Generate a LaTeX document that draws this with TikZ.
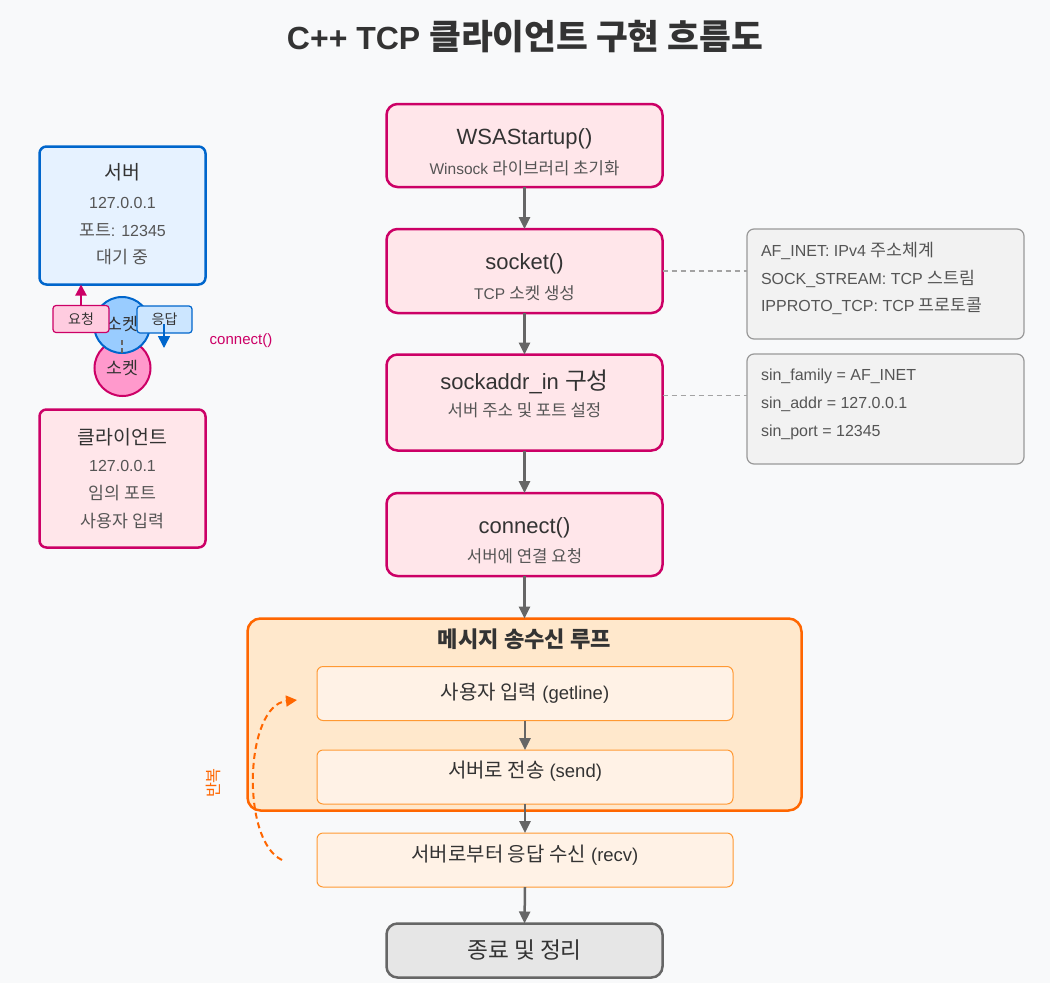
\documentclass[tikz,border=0pt]{standalone}
\usepackage{fontspec}
\setmainfont{Liberation Sans}
\newfontfamily\krfont[Scale=1.08]{Noto Sans CJK KR}
\newcommand\hg[1]{{\krfont #1}}
\usetikzlibrary{arrows.meta,calc}
\newcommand\fsz[1]{\fontsize{#1}{#1}\selectfont}
\definecolor{bg}{HTML}{F8F9FA}
\definecolor{txt}{HTML}{333333}
\definecolor{subtxt}{HTML}{555555}
\definecolor{pinkS}{HTML}{CC0066}
\definecolor{pinkF}{HTML}{FFE6EA}
\definecolor{pinkC}{HTML}{FF99CC}
\definecolor{pinkL}{HTML}{FFCCE0}
\definecolor{blueS}{HTML}{0066CC}
\definecolor{blueF}{HTML}{E6F2FF}
\definecolor{blueC}{HTML}{99CCFF}
\definecolor{blueL}{HTML}{CCE6FF}
\definecolor{orS}{HTML}{FF6600}
\definecolor{orF}{HTML}{FFE8CC}
\definecolor{inS}{HTML}{FF9933}
\definecolor{inF}{HTML}{FFF2E6}
\definecolor{noteF}{HTML}{F2F2F2}
\definecolor{noteS}{HTML}{999999}
\definecolor{endF}{HTML}{E6E6E6}
\definecolor{arr}{HTML}{666666}
\begin{document}
\begin{tikzpicture}[x=1pt,y=-1pt,
  every node/.style={inner sep=0pt,outer sep=0pt,text=txt},
  flowbox/.style={draw=pinkS,fill=pinkF,line width=2.5pt,rounded corners=11pt,minimum width=276pt},
  sidebox/.style={line width=2.5pt,rounded corners=7pt,minimum width=166pt,minimum height=138pt},
  notebox/.style={draw=noteS,fill=noteF,line width=1.2pt,rounded corners=7pt,minimum width=277pt,minimum height=110pt},
  innerbox/.style={draw=inS,fill=inF,line width=1pt,rounded corners=6pt,minimum width=416pt,minimum height=54pt},
  ttl/.style={font=\fsz{22}},
  sub/.style={font=\fsz{15.5},text=subtxt},
  side/.style={font=\fsz{16},text=subtxt},
  notetxt/.style={font=\fsz{16},text=subtxt,anchor=west},
  innertxt/.style={font=\fsz{18.5}},
  flowarrow/.style={draw=arr,line width=2.5pt,-{Triangle[length=12pt,width=11pt]}},
  dashlink/.style={draw=noteS!90,line width=1.2pt,dash pattern=on 5pt off 4pt}
]
\useasboundingbox[fill=bg] (0,0) rectangle (1050,983);

% title
\node[font=\fsz{32}\bfseries] (title) at (525,37) {C++ TCP \hg{클라이언트 구현 흐름도}};

% main flow
\node[flowbox,minimum height=83pt] (w) at (524.5,145.5) {};
\node[ttl] (wt) at (524.5,139) {WSAStartup()};
\node[sub] (ws) at (524.5,168) {Winsock \hg{라이브러리 초기화}};

\node[flowbox,minimum height=84pt] (s) at (524.5,271) {};
\node[ttl] (st) at (524.5,264) {socket()};
\node[sub] (ss) at (524.5,293) {TCP \hg{소켓 생성}};

\node[flowbox,minimum height=96pt] (sa) at (524.5,402.5) {};
\node[ttl] (sat) at (524.5,382) {sockaddr\_in \hg{구성}};
\node[sub] (sas) at (524.5,410) {\hg{서버 주소 및 포트 설정}};

\node[flowbox,minimum height=83pt] (c) at (524.5,534.5) {};
\node[ttl] (ct) at (524.5,528) {connect()};
\node[sub] (cs) at (524.5,556) {\hg{서버에 연결 요청}};

% loop
\node[draw=orS,fill=orF,line width=2.5pt,rounded corners=13pt,minimum width=554pt,minimum height=192pt] (loop) at (524.5,714.5) {};
\node[font=\fsz{20.5}\bfseries] (loopt) at (524.5,639) {\hg{메시지 송수신 루프}};

\node[innerbox] (in1) at (525,693.5) {};
\node[innertxt] (in1t) at (525,693) {\hg{사용자 입력} (getline)};
\node[innerbox] (in2) at (525,777) {};
\node[innertxt] (in2t) at (525,771) {\hg{서버로 전송} (send)};
\node[innerbox] (in3) at (525,860) {};
\node[innertxt] (in3t) at (525,855) {\hg{서버로부터 응답 수신} (recv)};

\node[draw=arr,fill=endF,line width=2.5pt,rounded corners=11pt,minimum width=276pt,minimum height=54pt,font=\fsz{21}] (end) at (524.5,950.5) {\hg{종료 및 정리}};

% flow arrows
\draw[flowarrow] (w.south) -- (s.north);
\draw[flowarrow] (s.south) -- (sa.north);
\draw[flowarrow] (sa.south) -- (c.north);
\draw[flowarrow] (c.south) -- (loop.north);
\draw[flowarrow] (in1.south) -- (in2.north);
\draw[flowarrow] (in2.south) -- (in3.north);
\draw[flowarrow] (in3.south) -- (end.north);

% repeat arrow
\coordinate (rA) at (282,860);
\coordinate (rB) at (297,700);
\draw[draw=orS,line width=2pt,dash pattern=on 6pt off 4pt,-{Triangle[length=11pt,width=11pt]}] (rA) .. controls (240,840) and (245,705) .. (rB);
\node[font=\fsz{15},text=orS,rotate=90] (rep) at (213,783) {\hg{반복}};

% notes
\node[notebox] (n1) at (885.5,284) {};
\node[notetxt] (n1a) at (761,251) {AF\_INET: IPv4 \hg{주소체계}};
\node[notetxt] (n1b) at (761,279) {SOCK\_STREAM: TCP \hg{스트림}};
\node[notetxt] (n1c) at (761,306) {IPPROTO\_TCP: TCP \hg{프로토콜}};
\node[notebox] (n2) at (885.5,409) {};
\node[notetxt] (n2a) at (761,376) {sin\_family = AF\_INET};
\node[notetxt] (n2b) at (761,404) {sin\_addr = 127.0.0.1};
\node[notetxt] (n2c) at (761,432) {sin\_port = 12345};
\draw[dashlink] (s.east) -- (s.east -| n1.west);
\coordinate (saR) at ($(sa.east)+(0,-7)$);
\draw[dashlink] (saR) -- (saR -| n2.west);

% server / client
\node[sidebox,draw=blueS,fill=blueF] (srv) at (122.5,215.5) {};
\node[font=\fsz{18}] (srvt) at (122.5,172) {\hg{서버}};
\node[side] (srv1) at (122.5,203) {127.0.0.1};
\node[side] (srv2) at (122.5,230) {\hg{포트}: 12345};
\node[side] (srv3) at (122.5,257) {\hg{대기 중}};

\node[sidebox,draw=pinkS,fill=pinkF] (cli) at (122.5,478.5) {};
\node[font=\fsz{18}] (clit) at (122.5,437) {\hg{클라이언트}};
\node[side] (cli1) at (122.5,466) {127.0.0.1};
\node[side] (cli2) at (122.5,493) {\hg{임의 포트}};
\node[side] (cli3) at (122.5,521) {\hg{사용자 입력}};

% sockets
\node[circle,draw=pinkS,fill=pinkC,line width=2pt,minimum size=56pt,font=\fsz{16}] (csock) at (122.5,368) {\hg{소켓}};
\node[circle,draw=blueS,fill=blueC,line width=2pt,minimum size=56pt] (ssock) at (122,325) {};
\node[font=\fsz{16}] (ssockt) at (122,324) {\hg{소켓}};
\draw[draw=arr,line width=2.5pt,dash pattern=on 5pt off 3pt] (122,340) coordinate (dA) -- (122,353) coordinate (dB);

\node[draw=pinkS,fill=pinkL,line width=1.2pt,rounded corners=3pt,minimum width=56pt,minimum height=27pt,font=\fsz{13}] (req) at (81,319) {\hg{요청}};
\draw[draw=pinkS,line width=2pt,-{Triangle[length=11pt,width=11pt]}] (req.north) -- (req.north |- srv.south);
\node[draw=blueS,fill=blueL,line width=1.2pt,rounded corners=3pt,minimum width=55pt,minimum height=27pt,font=\fsz{13}] (res) at (164.5,319.5) {\hg{응답}};
\coordinate (resA) at (164,324);
\coordinate (resB) at (164,348);
\draw[draw=blueS,line width=1.5pt,-{Triangle[length=12pt,width=12pt]}] (resA) -- (resB);
\node[font=\fsz{15},text=pinkS] (conn) at (241,341) {connect()};
\end{tikzpicture}
\end{document}
